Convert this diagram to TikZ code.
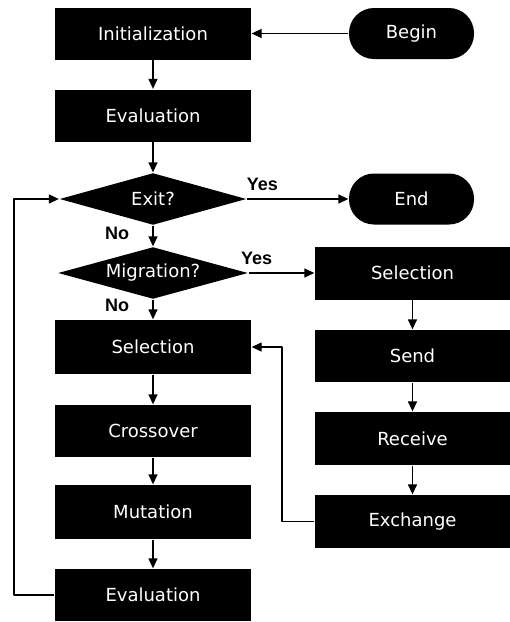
\documentclass[tikz,border=0pt]{standalone}
\usepackage{fontspec}
\setmainfont{DejaVu Sans}
\newfontfamily\yesnofont{Liberation Sans}
\usetikzlibrary{shapes.geometric,arrows.meta}
\begin{document}
\begin{tikzpicture}[x=1pt,y=-1pt,>={Triangle[length=10pt,width=9pt]},line width=1.3pt,line join=round,
	blk/.style={fill=black,text=white,minimum width=196pt,minimum height=52pt,inner sep=0pt,font=\fontsize{18}{20}\selectfont},
	term/.style={blk,minimum width=125pt,minimum height=51pt,rounded corners=25pt},
	ask/.style={blk,diamond,aspect=3.6,minimum width=190pt,minimum height=52pt},
	lab/.style={text=black,font=\yesnofont\bfseries\fontsize{18}{20}\selectfont}]
	\useasboundingbox (0,0) rectangle (510,622);
	% left column
	\node[blk] (ini) at (153,33.5) {Initialization};
	\node[blk] (ev1) at (153,115.5) {Evaluation};
	\node[ask,minimum width=187pt] (exit) at (153,199) {Exit?};
	\node[ask] (migr) at (153,273) {Migration?};
	\node[blk,minimum height=54pt] (sel) at (153,347) {Selection};
	\node[blk] (cross) at (153,431) {Crossover};
	\node[blk,minimum height=54pt] (mut) at (153,512) {Mutation};
	\node[blk] (ev2) at (153,595) {Evaluation};
	% right column
	\node[term] (begin) at (411.5,33.5) {Begin};
	\node[term] (end) at (411.5,199) {End};
	\node[blk,minimum width=195pt,minimum height=53pt] (rsel) at (412.5,273) {Selection};
	\node[blk,minimum width=195pt] (send) at (412.5,356) {Send};
	\node[blk,minimum width=195pt,minimum height=53pt] (recv) at (412.5,438.5) {Receive};
	\node[blk,minimum width=195pt,minimum height=53pt] (exch) at (412.5,521.5) {Exchange};
	\coordinate (back) at (14,0);
	\coordinate (side) at (282,0);
	
	\foreach \a/\b in {ini/ev1,ev1/exit,sel/cross,cross/mut,mut/ev2,rsel/send,send/recv,recv/exch}
	\draw[->] (\a) -- (\b);
	\draw[->] (begin) -- (ini);
	\draw[->] (exit) -- node[lab,pos=0.15,above=4pt]{Yes} (end);
	\draw[->] (migr) -- node[lab,pos=0.12,above=4pt]{Yes} (rsel);
	\draw[->] (exit) -- node[lab,pos=0.35,left=20pt]{No} (migr);
	\draw[->] (migr) -- node[lab,pos=0.3,left=20pt]{No} (sel);
	\draw[->] (exch.west) -- (exch.west -| side) |- (sel.east);
	\draw[->] (ev2.west) -- (ev2.west -| back) |- (exit.west);
\end{tikzpicture}
\end{document}
